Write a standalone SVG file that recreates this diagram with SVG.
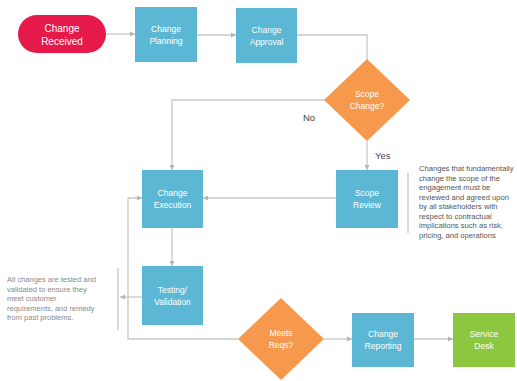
<svg xmlns="http://www.w3.org/2000/svg" width="517" height="381" viewBox="0 0 517 381">
<style>
.box{fill:#5bb7d3}
.dia{fill:#f7994c}
.lbl{font-family:"Liberation Sans",Arial,sans-serif;font-size:8.5px;fill:#ffffff;text-anchor:middle}
.edge{fill:none;stroke:#c8c8c8;stroke-width:1.3}
.note{font-family:"Liberation Sans",Arial,sans-serif;font-size:7.6px;fill:#555555}
.note2{font-family:"Liberation Sans",Arial,sans-serif;font-size:7.5px;fill:#8a8a8a}
.yn{font-family:"Liberation Sans",Arial,sans-serif;font-size:9.5px;fill:#444444}
</style>
<defs>
<marker id="arr" markerWidth="6" markerHeight="6" refX="5" refY="3" orient="auto" markerUnits="userSpaceOnUse">
<path d="M0,0.5 L5,3 L0,5.5 z" fill="#b5b5b5"/>
</marker>
</defs>
<rect width="517" height="381" fill="#ffffff"/>
<g id="connectors">
<path class="edge" d="M106,34 L135,34" marker-end="url(#arr)"/>
<path class="edge" d="M197,35 L236,35" marker-end="url(#arr)"/>
<path class="edge" d="M297,35 L367,35 L367,60"/>
<path class="edge" d="M325,100 L172,100 L172,170" marker-end="url(#arr)"/>
<path class="edge" d="M367,141 L367,170" marker-end="url(#arr)"/>
<path class="edge" d="M336,198 L203,198" marker-end="url(#arr)"/>
<path class="edge" d="M172,228 L172,266" marker-end="url(#arr)"/>
<path class="edge" d="M142,297 L120,297" marker-end="url(#arr)"/>
<path class="edge" d="M238,339 L128,339 L128,198 L142,198" marker-end="url(#arr)"/>
<path class="edge" d="M324,339 L352,339" marker-end="url(#arr)"/>
<path class="edge" d="M414,339 L453,339" marker-end="url(#arr)"/>
<path class="edge" d="M118,268 L118,330"/>
<path class="edge" d="M408,173 L408,233"/>
</g>
<g id="change-received">
<rect x="18" y="15" width="88" height="38" rx="19" fill="#e5194a"/>
<text class="lbl" x="62" y="32" style="font-size:10px">Change</text>
<text class="lbl" x="62" y="45" style="font-size:10px">Received</text>
</g>
<g id="change-planning">
<rect class="box" x="135" y="7" width="62" height="55"/>
<text class="lbl" x="166" y="32">Change</text>
<text class="lbl" x="166" y="44">Planning</text>
</g>
<g id="change-approval">
<rect class="box" x="236" y="8" width="61" height="55"/>
<text class="lbl" x="266.5" y="33">Change</text>
<text class="lbl" x="266.5" y="45">Approval</text>
</g>
<g id="scope-change">
<path class="dia" d="M367,59 L410,100 L367,141 L324,100 z"/>
<text class="lbl" x="367" y="97">Scope</text>
<text class="lbl" x="367" y="109">Change?</text>
</g>
<text class="yn" x="303" y="121">No</text>
<text class="yn" x="375" y="159">Yes</text>
<g id="scope-review">
<rect class="box" x="336" y="170" width="62" height="58"/>
<text class="lbl" x="367" y="196">Scope</text>
<text class="lbl" x="367" y="208">Review</text>
</g>
<g id="change-execution">
<rect class="box" x="142" y="170" width="61" height="58"/>
<text class="lbl" x="172.5" y="196">Change</text>
<text class="lbl" x="172.5" y="208">Execution</text>
</g>
<g id="testing-validation">
<rect class="box" x="142" y="266" width="61" height="59"/>
<text class="lbl" x="172.5" y="293">Testing/</text>
<text class="lbl" x="172.5" y="305">Validation</text>
</g>
<g id="meets-reqs">
<path class="dia" d="M281,298 L324,339 L281,380 L238,339 z"/>
<text class="lbl" x="281" y="336">Meets</text>
<text class="lbl" x="281" y="348">Reqs?</text>
</g>
<g id="change-reporting">
<rect class="box" x="352" y="313" width="62" height="54"/>
<text class="lbl" x="383" y="337">Change</text>
<text class="lbl" x="383" y="349">Reporting</text>
</g>
<g id="service-desk">
<rect x="453" y="313" width="62" height="54" fill="#8dc63f"/>
<text class="lbl" x="484" y="337">Service</text>
<text class="lbl" x="484" y="349">Desk</text>
</g>
<g id="scope-note">
<text class="note" x="419" y="171">Changes that fundamentally</text>
<text class="note" x="419" y="180.5">change the scope of the</text>
<text class="note" x="419" y="190">engagement must be</text>
<text class="note" x="419" y="199.5">reviewed and agreed upon</text>
<text class="note" x="419" y="209">by all stakeholders with</text>
<text class="note" x="419" y="218.5">respect to contractual</text>
<text class="note" x="419" y="228">implications such as risk,</text>
<text class="note" x="419" y="237.5">pricing, and operations</text>
</g>
<g id="testing-note">
<text class="note2" x="7" y="282">All changes are tested and</text>
<text class="note2" x="7" y="291.5">validated to ensure they</text>
<text class="note2" x="7" y="301">meet customer</text>
<text class="note2" x="7" y="310.5">requirements, and remedy</text>
<text class="note2" x="7" y="320">from past problems.</text>
</g>
</svg>
